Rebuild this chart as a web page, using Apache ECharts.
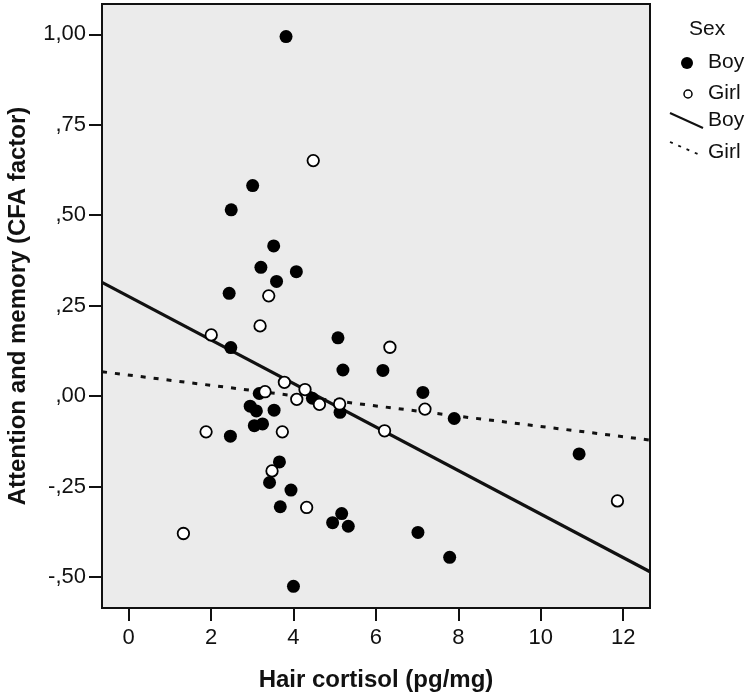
<!DOCTYPE html>
<html>
<head>
<meta charset="utf-8">
<script src="https://cdn.jsdelivr.net/npm/echarts@6/dist/echarts.min.js"></script>
<style>
html,body{margin:0;padding:0;background:#fff;}
#chart{width:750px;height:695px;}
</style>
</head>
<body>
<div id="chart"></div>
<script>
// ---- data ----
var boyX = [3.82, 3.01, 2.49, 3.52, 3.21, 4.07, 3.59, 2.44, 2.48, 5.08, 5.20, 6.17, 7.14, 7.90, 10.93, 4.46, 5.13, 3.17, 2.95, 3.10, 3.53, 3.05, 3.25, 2.47, 3.66, 3.42, 3.94, 3.68, 4.00, 5.17, 4.95, 5.33, 7.02, 7.79];
var boyY = [0.994, 0.582, 0.515, 0.415, 0.356, 0.344, 0.317, 0.284, 0.134, 0.161, 0.072, 0.071, 0.010, -0.062, -0.160, -0.006, -0.045, 0.007, -0.028, -0.041, -0.039, -0.082, -0.077, -0.111, -0.182, -0.239, -0.260, -0.306, -0.526, -0.325, -0.350, -0.360, -0.377, -0.446];
var girlX = [4.48, 3.40, 3.19, 2.005, 6.34, 3.78, 4.28, 3.31, 4.08, 4.63, 5.12, 7.19, 6.21, 3.73, 1.88, 3.48, 4.32, 1.33, 11.86];
var girlY = [0.651, 0.277, 0.194, 0.169, 0.135, 0.038, 0.018, 0.012, -0.009, -0.023, -0.022, -0.036, -0.096, -0.099, -0.099, -0.207, -0.308, -0.380, -0.290];
// fit lines: [intercept, slope]
var boyFit = [0.2757, -0.0602];
var girlFit = [0.058, -0.0142];
// axes
var xRange = [-0.645, 12.65];
var yRange = [-0.586, 1.084];
var xTicks = [0, 2, 4, 6, 8, 10, 12];
var yTicks = [-0.5, -0.25, 0, 0.25, 0.5, 0.75, 1.0];
var yTickLabels = ['-,50', '-,25', ',00', ',25', ',50', ',75', '1,00'];
var legendTitle = 'Sex';
var legendNames = ['Boy', 'Girl', 'Boy', 'Girl'];

// ---- build ----
function zip(xs, ys) { return xs.map(function (x, i) { return [x, ys[i]]; }); }
function fitLine(f) { return xRange.map(function (x) { return [x, f[0] + f[1] * x]; }); }
var FONT = '"Liberation Sans", Arial, Helvetica, sans-serif';
var INK = '#111';

var chart = echarts.init(document.getElementById('chart'), null, {renderer: 'canvas'});
var option = {
  animation: false,
  backgroundColor: '#ffffff',
  textStyle: {fontFamily: FONT},
  grid: {
    left: 102, top: 4, right: 100, bottom: 87,
    outerBoundsMode: 'none', containLabel: false,
    show: true, backgroundColor: '#ebebeb', borderColor: INK, borderWidth: 2
  },
  xAxis: {
    type: 'value', min: xRange[0], max: xRange[1],
    name: 'Hair cortisol (pg/mg)', nameLocation: 'middle', nameGap: 60,
    nameTextStyle: {fontSize: 24, fontWeight: 'bold', color: INK, fontFamily: FONT},
    axisLine: {show: true, onZero: false, lineStyle: {color: INK, width: 2}},
    axisTick: {show: true, length: 13, lineStyle: {color: INK, width: 2}, customValues: xTicks},
    axisLabel: {fontSize: 22, color: INK, margin: 19, fontFamily: FONT, customValues: xTicks},
    splitLine: {show: false}
  },
  yAxis: {
    type: 'value', min: yRange[0], max: yRange[1],
    name: 'Attention and memory (CFA factor)', nameLocation: 'middle', nameGap: 72,
    nameTextStyle: {fontSize: 24, fontWeight: 'bold', color: INK, fontFamily: FONT},
    axisLine: {show: true, onZero: false, lineStyle: {color: INK, width: 2}},
    axisTick: {show: true, length: 13, lineStyle: {color: INK, width: 2}, customValues: yTicks},
    axisLabel: {
      fontSize: 22, color: INK, margin: 16, fontFamily: FONT, customValues: yTicks,
      formatter: function (v) {
        for (var i = 0; i < yTicks.length; i++) { if (Math.abs(yTicks[i] - v) < 1e-9) return yTickLabels[i]; }
        return '';
      }
    },
    splitLine: {show: false}
  },
  series: [
    {
      name: 'Boy fit', type: 'line', data: fitLine(boyFit), symbol: 'none', z: 2,
      lineStyle: {color: INK, width: 3.2}
    },
    {
      name: 'Girl fit', type: 'line', data: fitLine(girlFit), symbol: 'none', z: 2,
      lineStyle: {color: INK, width: 3, type: [5, 8]}
    },
    {
      name: 'Boy', type: 'scatter', data: zip(boyX, boyY), symbol: 'circle', symbolSize: 13, z: 3,
      itemStyle: {color: '#000', opacity: 1}
    },
    {
      name: 'Girl', type: 'scatter', data: zip(girlX, girlY), symbol: 'circle', symbolSize: 11.5, z: 4,
      itemStyle: {color: '#fff', borderColor: '#000', borderWidth: 1.8, opacity: 1}
    }
  ],
  graphic: [
    {type: 'text', left: 689, top: 19, style: {text: legendTitle, fontSize: 21, fill: INK, fontFamily: FONT}},
    {type: 'circle', shape: {cx: 687, cy: 63, r: 6}, style: {fill: '#000'}},
    {type: 'text', left: 708, top: 52, style: {text: legendNames[0], fontSize: 21, fill: INK, fontFamily: FONT}},
    {type: 'circle', shape: {cx: 688, cy: 94, r: 4}, style: {fill: '#fff', stroke: '#000', lineWidth: 1.5}},
    {type: 'text', left: 708, top: 83, style: {text: legendNames[1], fontSize: 21, fill: INK, fontFamily: FONT}},
    {type: 'line', shape: {x1: 670, y1: 113, x2: 703, y2: 128}, style: {stroke: INK, lineWidth: 2}},
    {type: 'text', left: 708, top: 110, style: {text: legendNames[2], fontSize: 21, fill: INK, fontFamily: FONT}},
    {type: 'line', shape: {x1: 670, y1: 142, x2: 700, y2: 155}, style: {stroke: INK, lineWidth: 1.8, lineDash: [3, 6]}},
    {type: 'text', left: 708, top: 142, style: {text: legendNames[3], fontSize: 21, fill: INK, fontFamily: FONT}}
  ]
};
chart.setOption(option);
</script>
</body>
</html>
